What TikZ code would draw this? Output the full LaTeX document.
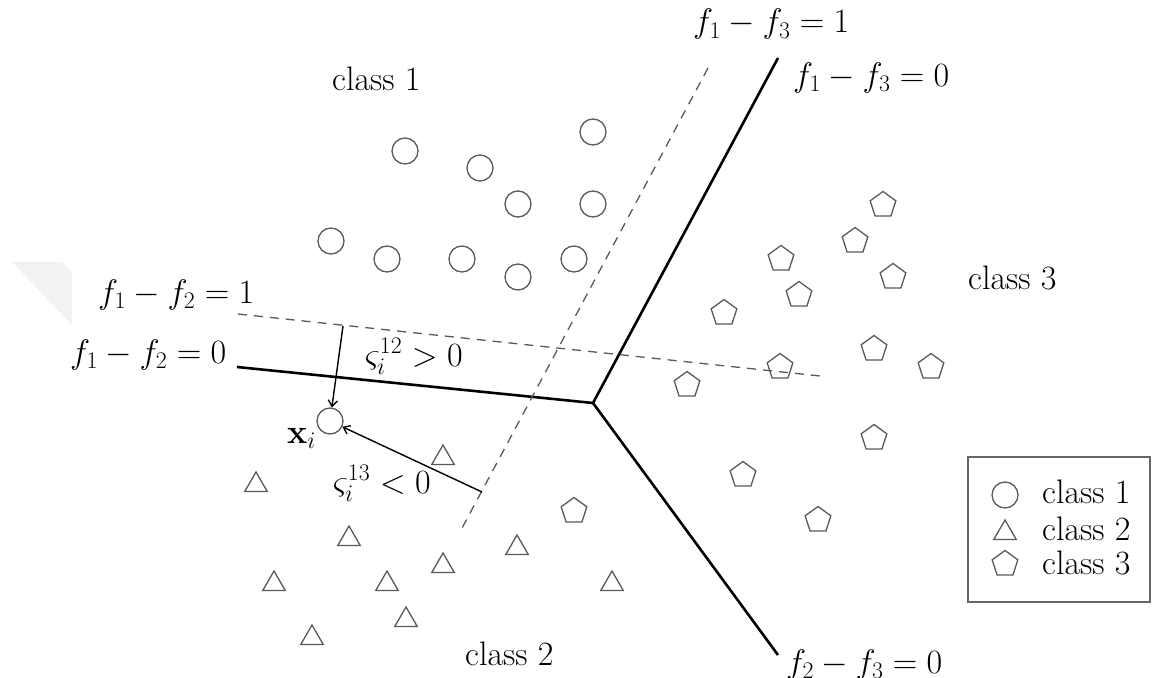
\RequirePackage{fix-cm}
\documentclass[tikz,border=0pt]{standalone}
\usetikzlibrary{shapes.geometric,arrows.meta}
\begin{document}
\begin{tikzpicture}[x=1pt,y=-1pt,
  lbl/.style={font=\fontsize{34}{40}\selectfont, inner sep=0pt},
  pt/.style={draw=black!65, line width=1.3pt, inner sep=0pt},
  c1/.style={pt, circle, minimum size=26pt},
  c2/.style={pt, regular polygon, regular polygon sides=3, minimum size=26pt, yshift=-3pt},
  c3/.style={pt, regular polygon, regular polygon sides=5, minimum size=27pt, yshift=-1pt},
  bound/.style={line width=2.6pt},
  margin/.style={draw=black!65, line width=1.3pt, dash pattern=on 9pt off 7pt},
  arr/.style={line width=1.4pt, -{Straight Barb[length=6pt,width=9pt]}}]
\useasboundingbox (0,0) rectangle (1155,677);
% faint watermark
\fill[gray!10] (12,262) -- (62,262) -- (72,272) -- (72,325) -- cycle;

% boundaries
\coordinate (O) at (593,403);
\coordinate (e13) at (778,58);
\coordinate (e23) at (778,655);
\coordinate (e12) at (237,367);
\draw[bound] (e12) -- (O) -- (e13);
\draw[bound] (O) -- (e23);
% margins
\coordinate (m12a) at (238,314);
\coordinate (m12b) at (820,376);
\coordinate (m13a) at (708,68);
\coordinate (m13b) at (461,530);
\draw[margin] (m12a) -- (m12b);
\draw[margin] (m13a) -- (m13b);

% class 1
\node[c1] (a1) at (405,151) {};
\node[c1] (a2) at (480,168) {};
\node[c1] (a3) at (593,132) {};
\node[c1] (a4) at (518,204) {};
\node[c1] (a5) at (593,204) {};
\node[c1] (a6) at (331,241) {};
\node[c1] (a7) at (387,259) {};
\node[c1] (a8) at (462,259) {};
\node[c1] (a9) at (518,277) {};
\node[c1] (a10) at (574,259) {};
\node[c1] (xi) at (330,421) {};

% class 2
\node[c2] (b1) at (443,455) {};
\node[c2] (b2) at (256,482) {};
\node[c2] (b3) at (349,536) {};
\node[c2] (b4) at (517,545) {};
\node[c2] (b5) at (443,563) {};
\node[c2] (b6) at (274,581) {};
\node[c2] (b7) at (387,581) {};
\node[c2] (b8) at (612,581) {};
\node[c2] (b9) at (406,617) {};
\node[c2] (b10) at (312,635) {};

% class 3
\node[c3] (c1) at (883,204) {};
\node[c3] (c2) at (855,240) {};
\node[c3] (c3) at (781,258) {};
\node[c3] (c4) at (893,276) {};
\node[c3] (c5) at (799,294) {};
\node[c3] (c6) at (724,312) {};
\node[c3] (c7) at (874,348) {};
\node[c3] (c8) at (780,366) {};
\node[c3] (c9) at (931,366) {};
\node[c3] (c10) at (687,384) {};
\node[c3] (c11) at (874,437) {};
\node[c3] (c12) at (743,474) {};
\node[c3] (c13) at (818,519) {};
\node[c3] (c14) at (574,510) {};

% slack arrows
\coordinate (p1) at (343,326);
\coordinate (p2) at (482,492);
\draw[arr] (p1) -- (xi);
\draw[arr] (p2) -- (xi);

% labels
\node[lbl, anchor=base west] (l13a) at (693,33) {$f_1-f_3=1$};
\node[lbl, anchor=base west] (l13b) at (793,86) {$f_1-f_3=0$};
\node[lbl, anchor=base west] (l12a) at (98,303) {$f_1-f_2=1$};
\node[lbl, anchor=base west] (l12b) at (70,363) {$f_1-f_2=0$};
\node[lbl, anchor=base west] (l23) at (786,673) {$f_2-f_3=0$};
\node[lbl, anchor=base west] (k1) at (332,90) {class 1};
\node[lbl, anchor=base west] (k2) at (465,665) {class 2};
\node[lbl, anchor=base west] (k3) at (968,289) {class 3};
\node[lbl, anchor=base west] (s12) at (365,366) {$\varsigma_i^{12}>0$};
\node[lbl, anchor=base west] (s13) at (333,493) {$\varsigma_i^{13}<0$};
\node[lbl, anchor=base west] (xl) at (287,443) {$\mathbf{x}_i$};

% legend
\draw[draw=black!60, line width=1.5pt] (968,457) rectangle (1150,602);
\node[c1] (g1) at (1005,495) {};
\node[c2] (g2) at (1005,530) {};
\node[c3] (g3) at (1005,563) {};
\node[lbl, anchor=base west] (t1) at (1042,503) {class 1};
\node[lbl, anchor=base west] (t2) at (1042,540) {class 2};
\node[lbl, anchor=base west] (t3) at (1042,574) {class 3};
\end{tikzpicture}
\end{document}
